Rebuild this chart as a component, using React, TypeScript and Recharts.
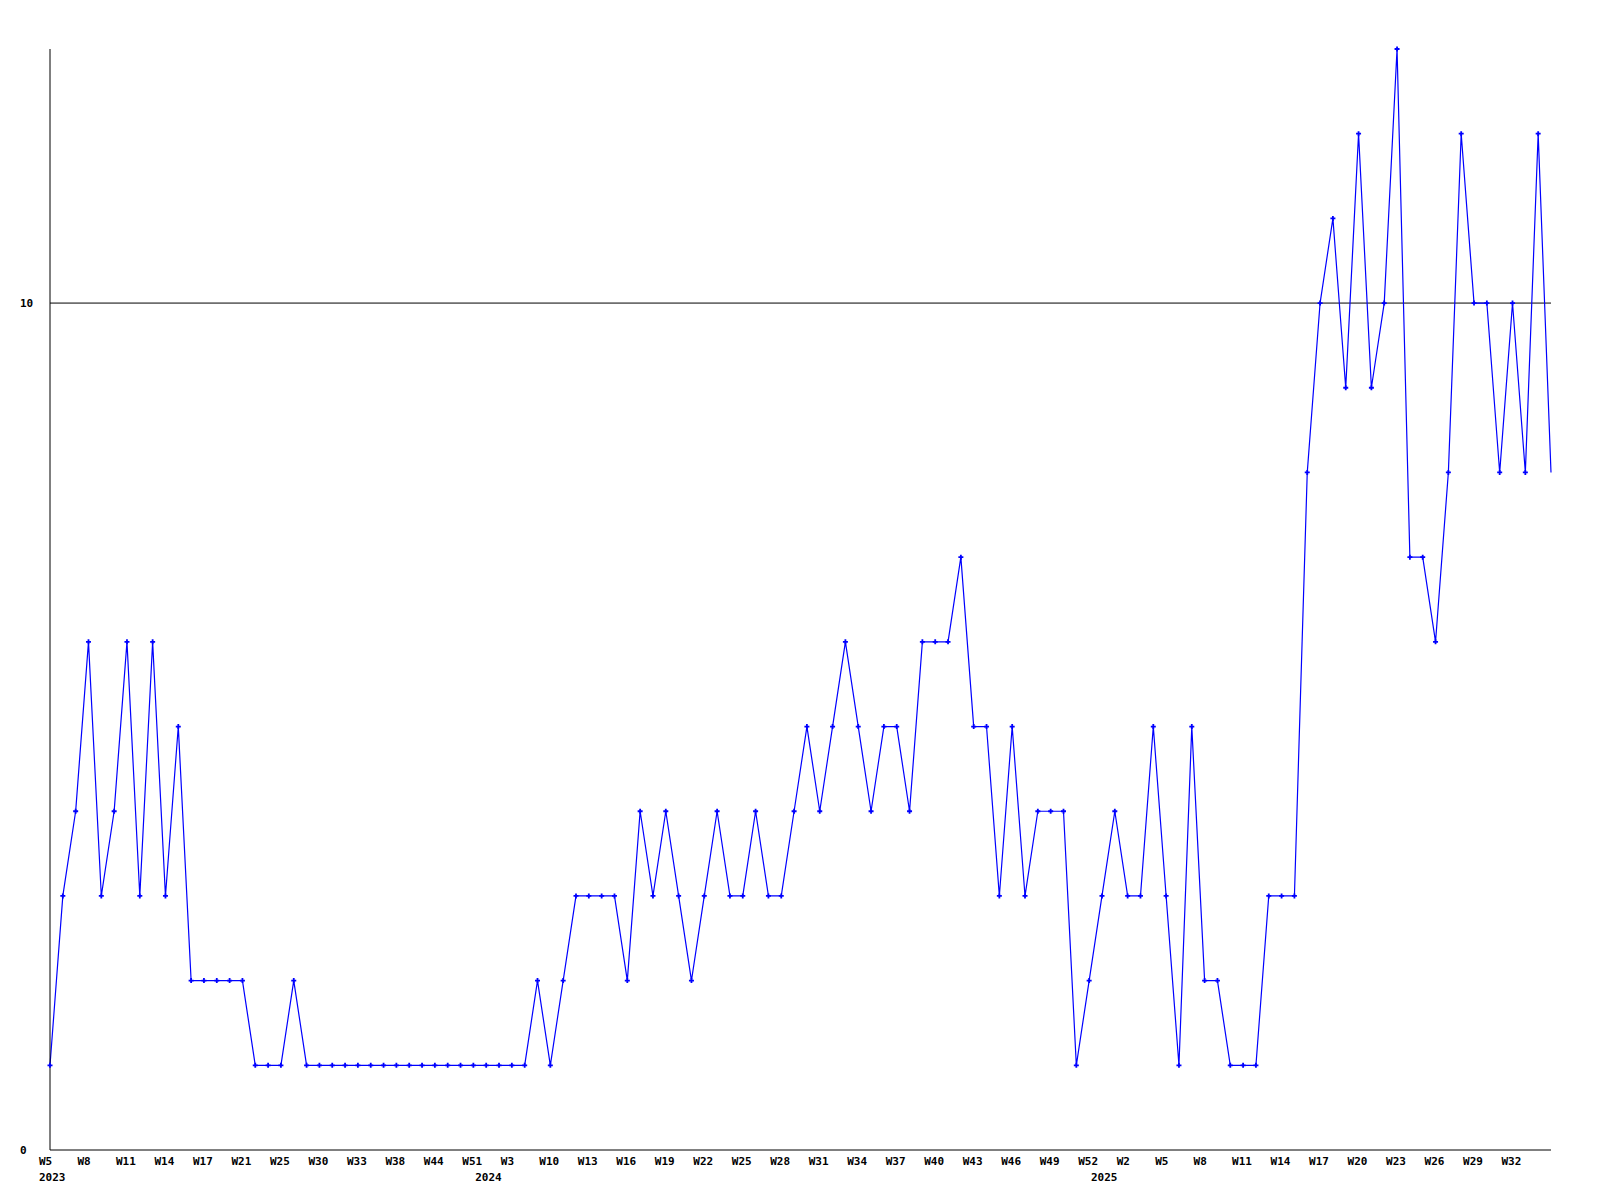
import { LineChart, Line, XAxis, YAxis, ReferenceLine } from "recharts";

// weekly counts, one per point, left to right
const values: number[] = [
  1, 3, 4, 6, 3, 4, 6, 3, 6, 3, 5, 2, 2, 2, 2, 2, 1, 1, 1, 2,
  1, 1, 1, 1, 1, 1, 1, 1, 1, 1, 1, 1, 1, 1, 1, 1, 1, 1,
  2, 1, 2, 3, 3, 3, 3, 2, 4, 3, 4, 3, 2, 3, 4, 3, 3, 4, 3, 3, 4, 5,
  4, 5, 6, 5, 4, 5, 5, 4, 6, 6, 6, 7, 5, 5, 3, 5, 3, 4, 4, 4,
  1, 2, 3, 4, 3, 3, 5, 3, 1, 5, 2, 2, 1, 1, 1, 3, 3, 3,
  8, 10, 11, 9, 12, 9, 10, 13, 7, 7, 6, 8, 12, 10, 10, 8, 10, 8, 12, 8
];

// a week label on every third point
const weekLabels: string[] = [
  "W5", "W8", "W11", "W14", "W17", "W21", "W25", "W30", "W33", "W38", "W44", "W51",
  "W3", "W10", "W13", "W16", "W19", "W22", "W25", "W28", "W31", "W34", "W37", "W40",
  "W43", "W46", "W49", "W52",
  "W2", "W5", "W8", "W11", "W14", "W17", "W20", "W23", "W26", "W29", "W32"
];
const yearIdx: number[] = [0, 34, 82];
const yearLabels: string[] = ["2023", "2024", "2025"];

const yTicks = [0, 10];

const data = values.map((v, i) => ({ i, v }));
const xTicks = Array.from(
  new Set([...weekLabels.map((_, k) => k * 3), ...yearIdx])
).sort((a, b) => a - b);

const FONT = "'DejaVu Sans Mono', monospace";

function XTick(props: any) {
  const { x, y, payload } = props;
  const i = payload.value as number;
  const wk = i % 3 === 0 ? weekLabels[i / 3] : null;
  const yk = yearIdx.indexOf(i);
  return (
    <g>
      {wk && (
        <text x={x - 11} y={y + 15} textAnchor="start" fontFamily={FONT} fontWeight="bold" fontSize={11} fill="#000">
          {wk}
        </text>
      )}
      {yk >= 0 && (
        <text x={x - 11} y={y + 31} textAnchor="start" fontFamily={FONT} fontWeight="bold" fontSize={11} fill="#000">
          {yearLabels[yk]}
        </text>
      )}
    </g>
  );
}

function YTick(props: any) {
  const { y, payload } = props;
  return (
    <text x={12} y={y + 4} textAnchor="start" fontFamily={FONT} fontWeight="bold" fontSize={11} fill="#000">
      {payload.value}
    </text>
  );
}

function Marker(props: any) {
  const { cx, cy, index } = props;
  if (index === values.length - 1 || cx == null) return <g key={`d-${index}`} />;
  return (
    <path
      key={`d-${index}`}
      d={`M${cx - 2.5},${cy} H${cx + 2.5} M${cx},${cy - 2.5} V${cy + 2.5}`}
      stroke="#0000ff"
      strokeWidth={1.8}
      fill="none"
    />
  );
}

export default function App() {
  return (
    <div style={{ width: 1584, height: 1184, background: "#fff" }}>
      <LineChart
        width={1584}
        height={1184}
        data={data}
        margin={{ top: 41, right: 41, left: 0, bottom: 0 }}
      >
        <XAxis
          dataKey="i"
          type="number"
          domain={[0, values.length - 1]}
          ticks={xTicks}
          interval={0}
          height={42}
          tickLine={false}
          tickSize={0}
          tickMargin={0}
          axisLine={{ stroke: "#000", strokeWidth: 1 }}
          tick={<XTick />}
        />
        <YAxis
          type="number"
          domain={[0, 13]}
          ticks={yTicks}
          interval={0}
          width={42}
          tickLine={false}
          tickSize={0}
          tickMargin={0}
          axisLine={{ stroke: "#000", strokeWidth: 1 }}
          tick={<YTick />}
        />
        <ReferenceLine y={10} stroke="#000" strokeWidth={1} />
        <Line
          dataKey="v"
          type="linear"
          stroke="#0000ff"
          strokeWidth={1.2}
          dot={Marker}
          activeDot={false}
          isAnimationActive={false}
        />
      </LineChart>
    </div>
  );
}
